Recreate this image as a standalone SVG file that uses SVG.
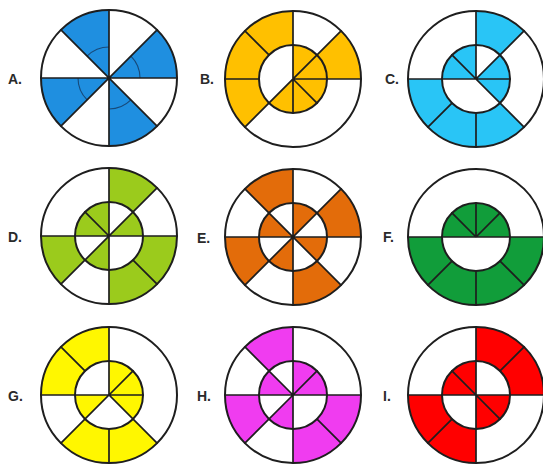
<svg xmlns="http://www.w3.org/2000/svg" width="543" height="464" viewBox="0 0 543 464">
<style>
.c{fill:none;stroke:#1e1e1e;stroke-width:2}
.l{fill:none;stroke:#1e1e1e;stroke-width:1.7;stroke-linecap:round}
.lab{font-family:"Liberation Sans",Arial,sans-serif;font-weight:bold;font-size:14px;fill:#2a2a2a}
.a{fill:none;stroke:#174a7a;stroke-width:1.1}
</style>
<rect width="543" height="464" fill="#ffffff"/>

<g id="fig-A" transform="translate(109,78)">
<g fill="#1f8fe0">
<path d="M0 0 L68 0 A68 68 0 0 0 48.08 -48.08 Z"/>
<path d="M0 0 L0 -68 A68 68 0 0 0 -48.08 -48.08 Z"/>
<path d="M0 0 L-68 0 A68 68 0 0 0 -48.08 48.08 Z"/>
<path d="M0 0 L0 68 A68 68 0 0 0 48.08 48.08 Z"/>
</g>
<path class="a" d="M31 0 A31 31 0 0 0 21.92 -21.92 M0 -31 A31 31 0 0 0 -21.92 -21.92 M-31 0 A31 31 0 0 0 -21.92 21.92 M0 31 A31 31 0 0 0 21.92 21.92"/>
<path class="l" d="M-68 0 H68 M0 -68 V68 M-48.08 -48.08 L48.08 48.08 M48.08 -48.08 L-48.08 48.08"/>
<circle class="c" r="68"/>
</g>
<text class="lab" x="8" y="84">A.</text>

<g id="fig-B" transform="translate(293,79)">
<g fill="#ffc000">
<path d="M34 0 L68 0 A68 68 0 0 0 48.08 -48.08 L24.04 -24.04 A34 34 0 0 1 34 0 Z"/>
<path d="M0 -34 L0 -68 A68 68 0 0 0 -48.08 48.08 L-24.04 24.04 A34 34 0 0 1 0 -34 Z"/>
<path d="M0 0 L-24.04 24.04 A34 34 0 1 0 0 -34 Z"/>
</g>
<path class="l" d="M0 -68 V34 M-68 0 H-34 M0 0 H68 M48.08 -48.08 L-48.08 48.08 M-48.08 -48.08 L-24.04 -24.04 M0 0 L24.04 24.04"/>
<circle class="c" r="34"/>
<circle class="c" r="68"/>
</g>
<text class="lab" x="200" y="84">B.</text>

<g id="fig-C" transform="translate(476,79)">
<g fill="#29c5f6">
<path d="M24.04 -24.04 L48.08 -48.08 A68 68 0 0 0 0 -68 L0 -34 A34 34 0 0 1 24.04 -24.04 Z"/>
<path d="M-34 0 L-68 0 A68 68 0 0 0 48.08 48.08 L24.04 24.04 A34 34 0 0 1 -34 0 Z"/>
<path d="M0 0 L0 -34 A34 34 0 0 0 -34 0 Z"/>
<path d="M0 0 L24.04 24.04 A34 34 0 0 0 24.04 -24.04 Z"/>
</g>
<path class="l" d="M0 -68 V0 M0 34 V68 M-68 0 H34 M48.08 -48.08 L0 0 L48.08 48.08 M-24.04 -24.04 L0 0 M-24.04 24.04 L-48.08 48.08"/>
<circle class="c" r="34"/>
<circle class="c" r="68"/>
</g>
<text class="lab" x="385" y="84">C.</text>

<g id="fig-D" transform="translate(109,236)">
<g fill="#9bcb1c">
<path d="M24.04 -24.04 L48.08 -48.08 A68 68 0 0 0 0 -68 L0 -34 A34 34 0 0 1 24.04 -24.04 Z"/>
<path d="M-34 0 L-68 0 A68 68 0 0 0 -48.08 48.08 L-24.04 24.04 A34 34 0 0 1 -34 0 Z"/>
<path d="M0 34 L0 68 A68 68 0 0 0 68 0 L34 0 A34 34 0 0 1 0 34 Z"/>
<path d="M0 0 L0 -34 A34 34 0 0 0 -34 0 Z"/>
<path d="M0 0 L34 0 A34 34 0 0 0 24.04 -24.04 Z"/>
<path d="M0 0 L-24.04 24.04 A34 34 0 0 0 0 34 Z"/>
</g>
<path class="l" d="M0 -68 V68 M-68 0 H68 M48.08 -48.08 L-48.08 48.08 M-24.04 -24.04 L0 0 M24.04 24.04 L48.08 48.08"/>
<circle class="c" r="34"/>
<circle class="c" r="68"/>
</g>
<text class="lab" x="8" y="242">D.</text>

<g id="fig-E" transform="translate(293,237)">
<g fill="#e36c0a">
<path d="M34 0 L68 0 A68 68 0 0 0 48.08 -48.08 L24.04 -24.04 A34 34 0 0 1 34 0 Z"/>
<path d="M0 -34 L0 -68 A68 68 0 0 0 -48.08 -48.08 L-24.04 -24.04 A34 34 0 0 1 0 -34 Z"/>
<path d="M-34 0 L-68 0 A68 68 0 0 0 -48.08 48.08 L-24.04 24.04 A34 34 0 0 1 -34 0 Z"/>
<path d="M0 34 L0 68 A68 68 0 0 0 48.08 48.08 L24.04 24.04 A34 34 0 0 1 0 34 Z"/>
<path d="M0 0 L24.04 -24.04 A34 34 0 0 0 0 -34 Z"/>
<path d="M0 0 L-24.04 -24.04 A34 34 0 0 0 -34 0 Z"/>
<path d="M0 0 L-24.04 24.04 A34 34 0 0 0 0 34 Z"/>
<path d="M0 0 L24.04 24.04 A34 34 0 0 0 34 0 Z"/>
</g>
<path class="l" d="M-68 0 H68 M0 -68 V68 M-48.08 -48.08 L48.08 48.08 M48.08 -48.08 L-48.08 48.08"/>
<circle class="c" r="34"/>
<circle class="c" r="68"/>
</g>
<text class="lab" x="197" y="243">E.</text>

<g id="fig-F" transform="translate(476,237)">
<g fill="#119d3a">
<path d="M-34 0 L-68 0 A68 68 0 0 0 68 0 L34 0 A34 34 0 0 1 -34 0 Z"/>
<path d="M0 0 L34 0 A34 34 0 0 0 -34 0 Z"/>
</g>
<path class="l" d="M-68 0 H68 M0 0 L24.04 -24.04 M0 0 V-34 M0 0 L-24.04 -24.04 M-24.04 24.04 L-48.08 48.08 M0 34 V68 M24.04 24.04 L48.08 48.08"/>
<circle class="c" r="34"/>
<circle class="c" r="68"/>
</g>
<text class="lab" x="383" y="242">F.</text>

<g id="fig-G" transform="translate(109,395)">
<g fill="#fff700">
<path d="M0 -34 L0 -68 A68 68 0 0 0 -68 0 L-34 0 A34 34 0 0 1 0 -34 Z"/>
<path d="M-24.04 24.04 L-48.08 48.08 A68 68 0 0 0 48.08 48.08 L24.04 24.04 A34 34 0 0 1 -24.04 24.04 Z"/>
<path d="M0 0 L24.04 24.04 A34 34 0 0 0 0 -34 Z"/>
<path d="M0 0 L-34 0 A34 34 0 0 0 -24.04 24.04 Z"/>
</g>
<path class="l" d="M0 -68 V0 M0 34 V68 M-68 0 H34 M-48.08 -48.08 L-24.04 -24.04 M0 0 L24.04 -24.04 M-48.08 48.08 L0 0 L48.08 48.08"/>
<circle class="c" r="34"/>
<circle class="c" r="68"/>
</g>
<text class="lab" x="8" y="401">G.</text>

<g id="fig-H" transform="translate(293,395)">
<g fill="#f03cf0">
<path d="M0 -34 L0 -68 A68 68 0 0 0 -48.08 -48.08 L-24.04 -24.04 A34 34 0 0 1 0 -34 Z"/>
<path d="M-34 0 L-68 0 A68 68 0 0 0 -48.08 48.08 L-24.04 24.04 A34 34 0 0 1 -34 0 Z"/>
<path d="M0 34 L0 68 A68 68 0 0 0 68 0 L34 0 A34 34 0 0 1 0 34 Z"/>
<path d="M0 0 L34 0 A34 34 0 0 0 0 -34 Z"/>
<path d="M0 0 L-24.04 -24.04 A34 34 0 0 0 -34 0 Z"/>
<path d="M0 0 L-24.04 24.04 A34 34 0 0 0 0 34 Z"/>
</g>
<path class="l" d="M0 -68 V68 M-68 0 H68 M-48.08 -48.08 L0 0 M24.04 24.04 L48.08 48.08 M0 0 L24.04 -24.04 M0 0 L-48.08 48.08"/>
<circle class="c" r="34"/>
<circle class="c" r="68"/>
</g>
<text class="lab" x="197" y="401">H.</text>

<g id="fig-I" transform="translate(476,395)">
<g fill="#ff0000">
<path d="M34 0 L68 0 A68 68 0 0 0 0 -68 L0 -34 A34 34 0 0 1 34 0 Z"/>
<path d="M-34 0 L-68 0 A68 68 0 0 0 0 68 L0 34 A34 34 0 0 1 -34 0 Z"/>
<path d="M0 0 L0 -34 A34 34 0 0 0 -34 0 Z"/>
<path d="M0 0 L0 34 A34 34 0 0 0 34 0 Z"/>
</g>
<path class="l" d="M0 -68 V68 M-68 0 H68 M24.04 -24.04 L48.08 -48.08 M-24.04 24.04 L-48.08 48.08 M-24.04 -24.04 L0 0 L24.04 24.04"/>
<circle class="c" r="34"/>
<circle class="c" r="68"/>
</g>
<text class="lab" x="383" y="401">I.</text>
</svg>
